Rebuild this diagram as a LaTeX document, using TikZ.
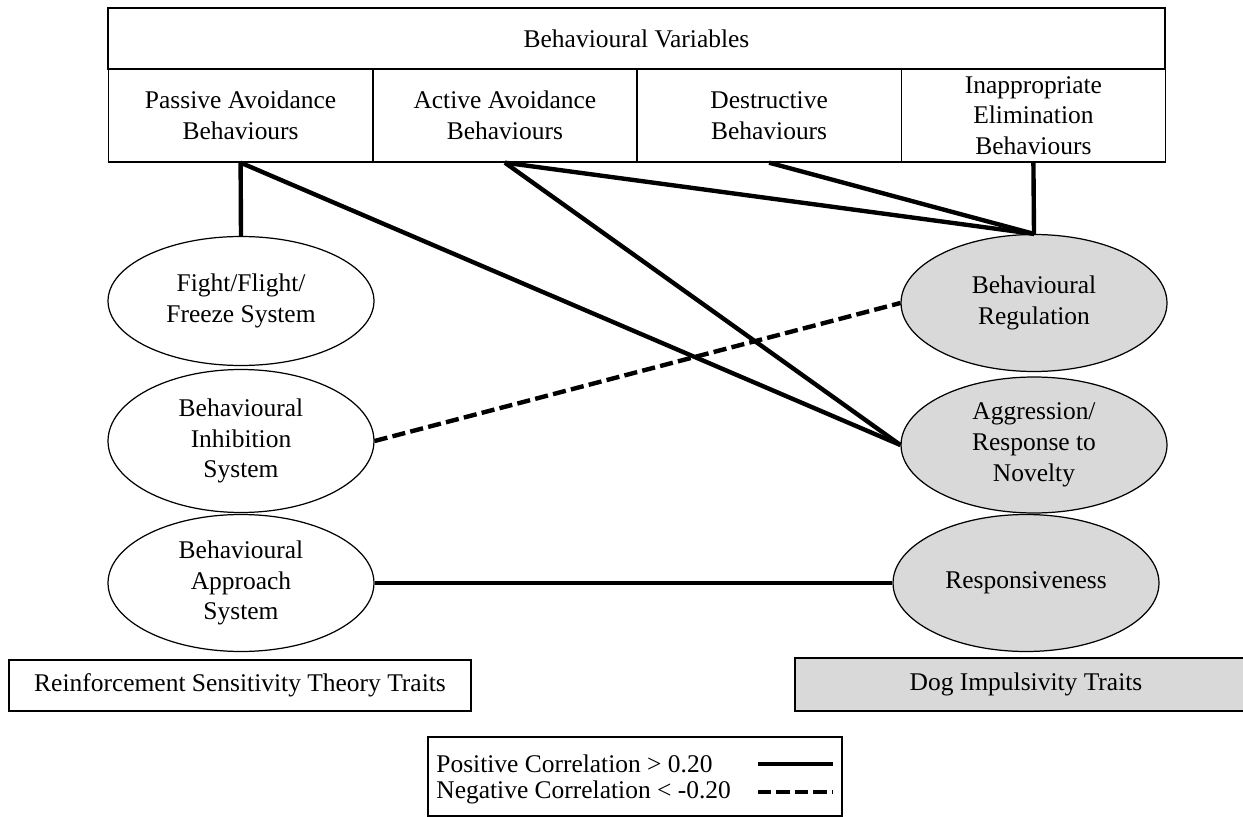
\documentclass[tikz,border=0pt]{standalone}
\usepackage{fontspec}
\setmainfont{Liberation Serif}
\usetikzlibrary{shapes.geometric}
\definecolor{traitgray}{HTML}{D9D9D9}

\begin{document}
\begin{tikzpicture}[x=0.02cm,y=-0.02cm,
  font=\fontsize{14.5}{17.5}\selectfont,
  box/.style={draw,line width=0.8pt,rectangle,align=center,inner sep=0pt},
  cell/.style={box,minimum width=5.285cm,minimum height=1.86cm},
  trait/.style={draw,line width=0.7pt,ellipse,align=center,inner sep=0pt,minimum width=5.32cm},
  dogtrait/.style={trait,fill=traitgray},
  link/.style={line width=2.5pt},
  neglink/.style={link,dash pattern=on 7.5pt off 3pt}]

\useasboundingbox (0,0) rectangle (1243,817);

% behavioural variables
\node[box,minimum width=21.14cm,minimum height=1.22cm] (bv) at (636.5,38.5) {Behavioural Variables};
\node[cell] (pab) at (240.6,115.5) {Passive Avoidance\\Behaviours};
\node[cell] (aab) at (504.9,115.5) {Active Avoidance\\Behaviours};
\node[cell] (dsb) at (769.1,115.5) {Destructive\\Behaviours};
\node[cell] (ieb) at (1033.4,115.5) {Inappropriate\\Elimination\\Behaviours};

% traits
\node[trait,minimum height=2.58cm] (fff) at (241,301) {Fight/Flight/\\Freeze System};
\node[trait,minimum height=2.86cm] (bis) at (241,441) {Behavioural\\Inhibition\\System};
\node[trait,minimum height=2.74cm] (bas) at (241,583) {Behavioural\\Approach\\System};
\node[dogtrait,minimum height=2.74cm] (breg) at (1034,303) {Behavioural\\Regulation};
\node[dogtrait,minimum height=2.72cm] (agg) at (1034,445) {Aggression/\\Response to\\Novelty};
\node[dogtrait,minimum height=2.74cm] (resp) at (1026,583) {Responsiveness};

\node[box,minimum width=9.24cm,minimum height=1.02cm] (rst) at (240,685.5) {Reinforcement Sensitivity Theory Traits};
\node[box,fill=traitgray,minimum width=9.24cm,minimum height=1.06cm] (dit) at (1026,684.5) {Dog Impulsivity Traits};

\path[link] (pab.south) edge (fff.north) (pab.south) edge (agg.west)
  (aab.south) edge (agg.west) (aab.south) edge (breg.north)
  (dsb.south) edge (breg.north) (ieb.south) edge (breg.north)
  (bas.east) edge (resp.west);
\path[neglink] (bis.east) edge (breg.west);

% legend
\node[box,minimum width=8.28cm,minimum height=1.58cm] (key) at (635,776.5) {};
\node[anchor=west,inner sep=0pt] (pos) at (436,764) {Positive Correlation > 0.20};
\node[anchor=west,inner sep=0pt] (neg) at (436,792) {Negative Correlation < -0.20};
\coordinate (p1) at (758,764);
\coordinate (p2) at (833,764);
\coordinate (n1) at (758,792);
\coordinate (n2) at (833,792);
\draw[link] (p1) -- (p2);
\draw[neglink] (n1) -- (n2);

\end{tikzpicture}
\end{document}
